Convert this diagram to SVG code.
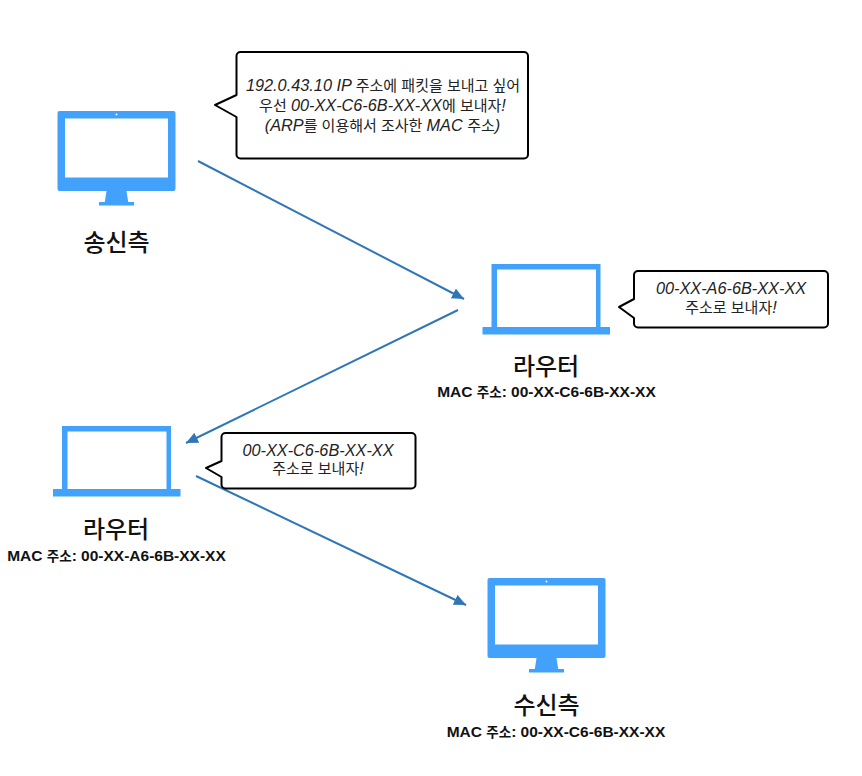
<svg xmlns="http://www.w3.org/2000/svg" width="862" height="776" viewBox="0 0 862 776">
<style>
text{font-family:"Liberation Sans","Noto Sans CJK KR",sans-serif;text-anchor:middle;fill:#111}
.title{font-family:"Noto Sans CJK KR","Liberation Sans",sans-serif;font-size:24px;font-weight:500}
.mac{font-size:15.500px;font-weight:700}
.ko{font-size:13.500px}
.say{font-size:15px;fill:#222}
.it{font-style:italic;font-size:16.300px}
.bubble{fill:#fff;stroke:#000;stroke-width:2;stroke-linejoin:round}
.dev{fill:#42a1fb}
.scr{fill:#fff}
.conn{stroke:#2f76b8;stroke-width:2;fill:none;marker-end:url(#ah)}
</style>
<defs>
<marker id="ah" markerUnits="userSpaceOnUse" markerWidth="13" markerHeight="11" refX="12" refY="5.500" orient="auto"><path d="M0 0L12 5.500L0 11Z" fill="#2f76b8"/></marker>
<g id="monitor"><rect x="0" y="0" width="118" height="80" rx="2" class="dev"/><rect x="7.500" y="7.500" width="103" height="59" class="scr"/><circle cx="59" cy="3.500" r="1" class="scr"/><path d="M49 80H69L71 93H47Z" class="dev"/><rect x="41.500" y="91" width="35" height="3.500" class="dev"/></g>
<g id="laptop"><path d="M9 0H118V63H127.500V70.500H0V63H9ZM14.500 5.500V63H113.500V5.500Z" class="dev" fill-rule="evenodd"/></g>
</defs>
<g id="connectors">
<path d="M198 161L464 299" class="conn"/>
<path d="M458 310L186 443" class="conn"/>
<path d="M196 476L466 605" class="conn"/>
</g>
<g id="sender"><use href="#monitor" x="57.500" y="111"/><text x="116.500" y="251" class="title">송신측</text></g>
<g id="sender-note"><path d="M236.500 56a4 4 0 0 1 4-4H524a4 4 0 0 1 4 4V154.500a4 4 0 0 1-4 4H240.500a4 4 0 0 1-4-4V117L215 105L236.500 95Z" class="bubble"/>
<text x="383" y="90.500" class="say"><tspan class="it">192.0.43.10 IP </tspan>주소에 패킷을 보내고 싶어</text>
<text x="382.500" y="111" class="say">우선 <tspan class="it">00-XX-C6-6B-XX-XX</tspan>에 보내자<tspan class="it">!</tspan></text>
<text x="382.500" y="130.500" class="say"><tspan class="it">(ARP</tspan>를 이용해서 조사한 <tspan class="it">MAC </tspan>주소<tspan class="it">)</tspan></text></g>
<g id="router-right"><use href="#laptop" x="482.500" y="264"/><text x="546" y="374.500" class="title">라우터</text><text x="546.500" y="396.500" class="mac">MAC <tspan class="ko">주소</tspan>: 00-XX-C6-6B-XX-XX</text></g>
<g id="router-right-note"><path d="M634 275a4 4 0 0 1 4-4H824a4 4 0 0 1 4 4V323.500a4 4 0 0 1-4 4H638a4 4 0 0 1-4-4V318L619 307L634 299Z" class="bubble"/>
<text x="731" y="294" class="say it">00-XX-A6-6B-XX-XX</text><text x="731" y="312.500" class="say">주소로 보내자<tspan class="it">!</tspan></text></g>
<g id="router-left"><use href="#laptop" x="53" y="426"/><text x="116" y="537.500" class="title">라우터</text><text x="116.500" y="560.500" class="mac">MAC <tspan class="ko">주소</tspan>: 00-XX-A6-6B-XX-XX</text></g>
<g id="router-left-note"><path d="M221.500 437a4 4 0 0 1 4-4H411.500a4 4 0 0 1 4 4V484.500a4 4 0 0 1-4 4H225.500a4 4 0 0 1-4-4V477L206 468L221.500 461Z" class="bubble"/>
<text x="318" y="455.500" class="say it">00-XX-C6-6B-XX-XX</text><text x="318" y="474" class="say">주소로 보내자<tspan class="it">!</tspan></text></g>
<g id="receiver"><use href="#monitor" x="487.500" y="578"/><text x="546.500" y="714" class="title">수신측</text><text x="556" y="736.500" class="mac">MAC <tspan class="ko">주소</tspan>: 00-XX-C6-6B-XX-XX</text></g>
</svg>
